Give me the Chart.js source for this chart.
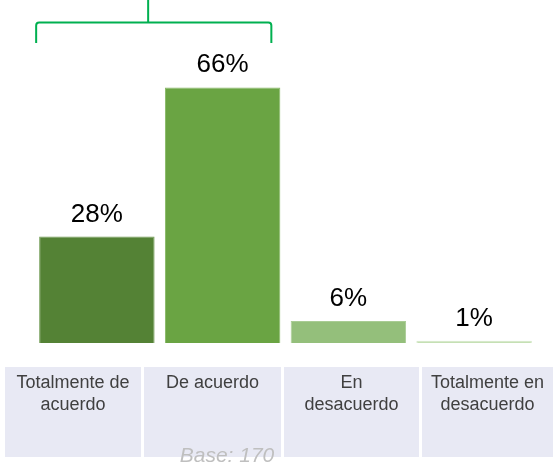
<!DOCTYPE html>
<html>
<head>
<meta charset="utf-8">
<script src="https://cdn.jsdelivr.net/npm/chart.js"></script>
<style>
  html, body { margin: 0; padding: 0; background: #fff; }
  #wrap { position: relative; width: 553px; height: 465px; overflow: hidden; font-family: Arial, "Liberation Sans", sans-serif; }
  #chart { position: absolute; left: 0; top: 0; }
  #table { position: absolute; left: 5px; top: 367px; width: 548px; height: 90px; display: flex; }
  .cell { flex: none; margin-right: 3px; height: 90px; background: #e8e9f4; color: #404040;
          font-size: 18px; line-height: 22px; text-align: center; padding-top: 4px; box-sizing: border-box; }
  .cell:last-child { margin-right: 0; }
  #base { position: absolute; left: 175px; top: 443px; width: 104px; text-align: center;
          font-size: 21px; line-height: 24px; font-style: italic; color: #bfbfbf; }
</style>
</head>
<body>
<div id="wrap">
  <canvas id="chart" width="553" height="465"></canvas>
  <div id="table"></div>
  <div id="base">Base: 170</div>
</div>
<script>
const categories = ['Totalmente de acuerdo', 'De acuerdo', 'En desacuerdo', 'Totalmente en desacuerdo']
const tableLabels = [['Totalmente de', 'acuerdo'], ['De acuerdo'], ['En', 'desacuerdo'], ['Totalmente en', 'desacuerdo']]
const values = [27.5, 66, 5.7, 0.6]
const barColors = ['#548235', '#6aa443', '#94bf7b', '#c5e0b4']
const edgeColors = ['#6f9a52', '#86b764', '#a9cc94', '#d2e7c5']
const cellWidths = [136, 137, 135, 131]

// label cells under the bars
const table = document.getElementById('table')
tableLabels.forEach((lines, i) => {
    const d = document.createElement('div')
    d.className = 'cell'
    d.style.width = cellWidths[i] + 'px'
    d.innerHTML = lines.join('<br>')
    table.appendChild(d)
})

// percent labels above each bar
const valueLabels = {
    id: 'valueLabels',
    afterDatasetsDraw(chart) {
        const ctx = chart.ctx
        const meta = chart.getDatasetMeta(0)
        ctx.save()
        ctx.font = '26px Arial, "Liberation Sans", sans-serif'
        ctx.fillStyle = '#000'
        ctx.textAlign = 'center'
        ctx.textBaseline = 'alphabetic'
        meta.data.forEach((bar, i) => {
            ctx.fillText(Math.round(values[i]) + '%', bar.x, bar.y - 15)
        })
        ctx.restore()
    }
}

// green bracket grouping the first two bars
const bracket = {
    id: 'bracket',
    afterDraw(chart) {
        const ctx = chart.ctx
        const meta = chart.getDatasetMeta(0)
        const b1 = meta.data[0], b2 = meta.data[1]
        const left = b1.x - b1.width / 2 - 3
        const right = b2.x + b2.width / 2 - 9
        const y = 22.5, yEnd = 43, r = 3
        const mid = left + 112
        ctx.save()
        ctx.strokeStyle = '#00b050'
        ctx.lineWidth = 2
        ctx.beginPath()
        ctx.moveTo(left, yEnd)
        ctx.lineTo(left, y + r)
        ctx.arcTo(left, y, left + r, y, r)
        ctx.lineTo(right - r, y)
        ctx.arcTo(right, y, right, y + r, r)
        ctx.lineTo(right, yEnd)
        ctx.moveTo(mid, y)
        ctx.lineTo(mid, 0)
        ctx.stroke()
        ctx.restore()
    }
}

new Chart(document.getElementById('chart'), {
    type: 'bar',
    data: {
        labels: categories,
        datasets: [{
            data: values,
            backgroundColor: barColors,
            borderColor: edgeColors,
            borderWidth: 1,
            barPercentage: 0.918,
            categoryPercentage: 1
        }]
    },
    options: {
        responsive: false,
        animation: false,
        layout: { padding: { top: 72, bottom: 122, left: 34, right: 16 } },
        plugins: { legend: { display: false }, tooltip: { enabled: false } },
        scales: {
            x: { display: false },
            y: { display: false, min: 0, max: 70 }
        }
    },
    plugins: [valueLabels, bracket]
})
</script>
</body>
</html>
